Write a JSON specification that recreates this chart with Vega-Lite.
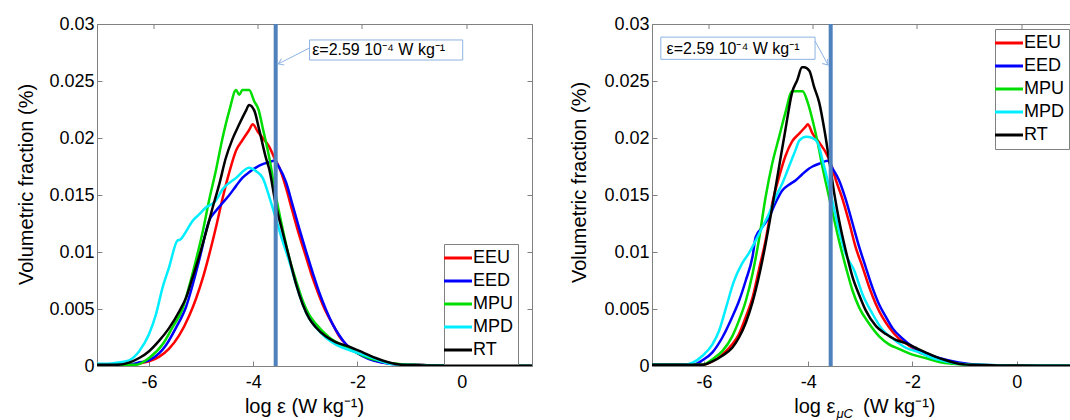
{
  "$schema": "https://vega.github.io/schema/vega-lite/v6.json",
  "background": "white",
  "padding": {"left": 15, "top": 14, "right": 0, "bottom": 0},
  "spacing": 35,
  "config": {
    "view": {"stroke": "#808080", "strokeWidth": 1},
    "axis": {
      "grid": false,
      "domainColor": "#808080",
      "tickColor": "#808080",
      "labelColor": "#000000",
      "labelFont": "Liberation Sans",
      "labelFontSize": 18,
      "titleFont": "Liberation Sans",
      "titleFontSize": 20,
      "titleFontWeight": "normal",
      "titleColor": "#000000"
    },
    "legend": {
      "orient": "none",
      "title": null,
      "symbolType": "M-2,0H2",
      "symbolSize": 196,
      "symbolStrokeWidth": 3,
      "labelFont": "Liberation Sans",
      "labelFontSize": 18,
      "labelColor": "#000000",
      "strokeColor": "#808080",
      "fillColor": "white",
      "padding": 5,
      "rowPadding": 5,
      "labelOffset": 6
    }
  },
  "resolve": {"scale": {"color": "independent"}},
  "datasets": {
    "one": [{}],
    "L": [
      {"s":"EEU","x":-7,"y":0.0001},{"s":"EEU","x":-6.6,"y":0.0001},{"s":"EEU","x":-6.4,"y":0.0001},{"s":"EEU","x":-6.2,"y":0.0002},{"s":"EEU","x":-6.0,"y":0.0004},{"s":"EEU","x":-5.81,"y":0.0008},{"s":"EEU","x":-5.62,"y":0.0015},{"s":"EEU","x":-5.42,"y":0.0027},{"s":"EEU","x":-5.23,"y":0.0044},{"s":"EEU","x":-5.1,"y":0.0059},{"s":"EEU","x":-4.97,"y":0.0077},{"s":"EEU","x":-4.85,"y":0.0097},{"s":"EEU","x":-4.72,"y":0.0121},{"s":"EEU","x":-4.59,"y":0.0147},{"s":"EEU","x":-4.46,"y":0.017},{"s":"EEU","x":-4.33,"y":0.0189},{"s":"EEU","x":-4.21,"y":0.0198},{"s":"EEU","x":-4.08,"y":0.0207},{"s":"EEU","x":-4.01,"y":0.0212},{"s":"EEU","x":-3.92,"y":0.0206},{"s":"EEU","x":-3.82,"y":0.02},{"s":"EEU","x":-3.69,"y":0.0192},{"s":"EEU","x":-3.6,"y":0.0183},{"s":"EEU","x":-3.5,"y":0.0174},{"s":"EEU","x":-3.37,"y":0.0156},{"s":"EEU","x":-3.25,"y":0.0136},{"s":"EEU","x":-3.12,"y":0.0115},{"s":"EEU","x":-2.99,"y":0.0096},{"s":"EEU","x":-2.86,"y":0.0077},{"s":"EEU","x":-2.73,"y":0.0061},{"s":"EEU","x":-2.61,"y":0.0048},{"s":"EEU","x":-2.48,"y":0.0037},{"s":"EEU","x":-2.35,"y":0.0026},{"s":"EEU","x":-2.22,"y":0.0019},{"s":"EEU","x":-2.03,"y":0.0012},{"s":"EEU","x":-1.78,"y":0.0007},{"s":"EEU","x":-1.52,"y":0.0003},{"s":"EEU","x":-1.27,"y":0.00015},{"s":"EEU","x":-0.88,"y":0.0001},{"s":"EEU","x":-0.5,"y":0.00005},{"s":"EEU","x":0,"y":0.00003},{"s":"EEU","x":0.5,"y":0.00002},{"s":"EEU","x":1.35,"y":0.00001},

      {"s":"EED","x":-7,"y":0.0001},{"s":"EED","x":-6.6,"y":0.0001},{"s":"EED","x":-6.385,"y":0.0001},{"s":"EED","x":-6.2,"y":0.0003},{"s":"EED","x":-6.0,"y":0.0005},{"s":"EED","x":-5.81,"y":0.0011},{"s":"EED","x":-5.68,"y":0.0018},{"s":"EED","x":-5.49,"y":0.0033},{"s":"EED","x":-5.29,"y":0.0052},{"s":"EED","x":-5.1,"y":0.0082},{"s":"EED","x":-5.0,"y":0.01},{"s":"EED","x":-4.92,"y":0.0116},{"s":"EED","x":-4.85,"y":0.0127},{"s":"EED","x":-4.72,"y":0.0136},{"s":"EED","x":-4.59,"y":0.0143},{"s":"EED","x":-4.46,"y":0.015},{"s":"EED","x":-4.33,"y":0.0158},{"s":"EED","x":-4.21,"y":0.0165},{"s":"EED","x":-4.08,"y":0.017},{"s":"EED","x":-3.95,"y":0.0174},{"s":"EED","x":-3.82,"y":0.0177},{"s":"EED","x":-3.69,"y":0.0179},{"s":"EED","x":-3.6,"y":0.018},{"s":"EED","x":-3.5,"y":0.0174},{"s":"EED","x":-3.37,"y":0.0161},{"s":"EED","x":-3.25,"y":0.0142},{"s":"EED","x":-3.12,"y":0.0121},{"s":"EED","x":-2.99,"y":0.0101},{"s":"EED","x":-2.86,"y":0.0082},{"s":"EED","x":-2.73,"y":0.0064},{"s":"EED","x":-2.61,"y":0.005},{"s":"EED","x":-2.48,"y":0.0037},{"s":"EED","x":-2.35,"y":0.0027},{"s":"EED","x":-2.22,"y":0.0019},{"s":"EED","x":-2.03,"y":0.0012},{"s":"EED","x":-1.78,"y":0.0006},{"s":"EED","x":-1.52,"y":0.0003},{"s":"EED","x":-1.27,"y":0.00015},{"s":"EED","x":-0.88,"y":0.0001},{"s":"EED","x":-0.5,"y":0.00005},{"s":"EED","x":0,"y":0.00003},{"s":"EED","x":0.5,"y":0.00002},{"s":"EED","x":1.35,"y":0.00001},

      {"s":"MPU","x":-7,"y":0.0001},{"s":"MPU","x":-6.6,"y":0.0001},{"s":"MPU","x":-6.26,"y":0.0001},{"s":"MPU","x":-6.0,"y":0.0007},{"s":"MPU","x":-5.74,"y":0.0019},{"s":"MPU","x":-5.55,"y":0.0034},{"s":"MPU","x":-5.36,"y":0.005},{"s":"MPU","x":-5.23,"y":0.007},{"s":"MPU","x":-5.1,"y":0.0093},{"s":"MPU","x":-4.97,"y":0.0118},{"s":"MPU","x":-4.85,"y":0.0145},{"s":"MPU","x":-4.72,"y":0.0171},{"s":"MPU","x":-4.59,"y":0.02},{"s":"MPU","x":-4.46,"y":0.0224},{"s":"MPU","x":-4.33,"y":0.0242},{"s":"MPU","x":-4.27,"y":0.0238},{"s":"MPU","x":-4.21,"y":0.0242},{"s":"MPU","x":-4.08,"y":0.0242},{"s":"MPU","x":-3.98,"y":0.0232},{"s":"MPU","x":-3.9,"y":0.0225},{"s":"MPU","x":-3.82,"y":0.0209},{"s":"MPU","x":-3.69,"y":0.0182},{"s":"MPU","x":-3.57,"y":0.015},{"s":"MPU","x":-3.44,"y":0.0121},{"s":"MPU","x":-3.31,"y":0.0095},{"s":"MPU","x":-3.18,"y":0.0075},{"s":"MPU","x":-3.05,"y":0.0057},{"s":"MPU","x":-2.93,"y":0.0045},{"s":"MPU","x":-2.8,"y":0.0037},{"s":"MPU","x":-2.54,"y":0.0025},{"s":"MPU","x":-2.29,"y":0.0018},{"s":"MPU","x":-2.03,"y":0.0012},{"s":"MPU","x":-1.78,"y":0.0007},{"s":"MPU","x":-1.52,"y":0.0004},{"s":"MPU","x":-1.27,"y":0.0002},{"s":"MPU","x":-0.9,"y":0.0001},{"s":"MPU","x":-0.5,"y":0.00005},{"s":"MPU","x":0,"y":0.00003},{"s":"MPU","x":1.35,"y":0.00001},

      {"s":"MPD","x":-7,"y":0.0002},{"s":"MPD","x":-6.8,"y":0.0002},{"s":"MPD","x":-6.6,"y":0.0003},{"s":"MPD","x":-6.385,"y":0.0005},{"s":"MPD","x":-6.19,"y":0.0013},{"s":"MPD","x":-6.0,"y":0.0028},{"s":"MPD","x":-5.87,"y":0.0045},{"s":"MPD","x":-5.74,"y":0.0069},{"s":"MPD","x":-5.62,"y":0.0086},{"s":"MPD","x":-5.455,"y":0.011},{"s":"MPD","x":-5.4,"y":0.0111},{"s":"MPD","x":-5.29,"y":0.0118},{"s":"MPD","x":-5.17,"y":0.0127},{"s":"MPD","x":-5.04,"y":0.0133},{"s":"MPD","x":-4.91,"y":0.0139},{"s":"MPD","x":-4.72,"y":0.0145},{"s":"MPD","x":-4.59,"y":0.0155},{"s":"MPD","x":-4.33,"y":0.0165},{"s":"MPD","x":-4.08,"y":0.0174},{"s":"MPD","x":-3.95,"y":0.0171},{"s":"MPD","x":-3.82,"y":0.0165},{"s":"MPD","x":-3.69,"y":0.0148},{"s":"MPD","x":-3.57,"y":0.013},{"s":"MPD","x":-3.44,"y":0.011},{"s":"MPD","x":-3.31,"y":0.0092},{"s":"MPD","x":-3.18,"y":0.0072},{"s":"MPD","x":-3.05,"y":0.0054},{"s":"MPD","x":-2.93,"y":0.0042},{"s":"MPD","x":-2.8,"y":0.0034},{"s":"MPD","x":-2.61,"y":0.0025},{"s":"MPD","x":-2.42,"y":0.0019},{"s":"MPD","x":-2.16,"y":0.0014},{"s":"MPD","x":-1.9,"y":0.001},{"s":"MPD","x":-1.65,"y":0.0006},{"s":"MPD","x":-1.39,"y":0.0002},{"s":"MPD","x":-1.14,"y":0.0001},{"s":"MPD","x":-0.63,"y":0.00005},{"s":"MPD","x":0,"y":0.00003},{"s":"MPD","x":1.35,"y":0.00001},

      {"s":"RT","x":-7,"y":0.0001},{"s":"RT","x":-6.8,"y":0.0001},{"s":"RT","x":-6.64,"y":0.0001},{"s":"RT","x":-6.385,"y":0.0003},{"s":"RT","x":-6.19,"y":0.0007},{"s":"RT","x":-6.0,"y":0.0013},{"s":"RT","x":-5.81,"y":0.0022},{"s":"RT","x":-5.62,"y":0.0033},{"s":"RT","x":-5.42,"y":0.0048},{"s":"RT","x":-5.29,"y":0.006},{"s":"RT","x":-5.17,"y":0.0077},{"s":"RT","x":-5.04,"y":0.0096},{"s":"RT","x":-4.91,"y":0.0117},{"s":"RT","x":-4.78,"y":0.0139},{"s":"RT","x":-4.65,"y":0.016},{"s":"RT","x":-4.53,"y":0.0182},{"s":"RT","x":-4.4,"y":0.0199},{"s":"RT","x":-4.27,"y":0.0212},{"s":"RT","x":-4.14,"y":0.0224},{"s":"RT","x":-4.08,"y":0.0229},{"s":"RT","x":-3.98,"y":0.0224},{"s":"RT","x":-3.89,"y":0.0208},{"s":"RT","x":-3.76,"y":0.0183},{"s":"RT","x":-3.69,"y":0.0172},{"s":"RT","x":-3.57,"y":0.0142},{"s":"RT","x":-3.44,"y":0.0118},{"s":"RT","x":-3.31,"y":0.0095},{"s":"RT","x":-3.18,"y":0.0072},{"s":"RT","x":-3.05,"y":0.0054},{"s":"RT","x":-2.93,"y":0.0042},{"s":"RT","x":-2.8,"y":0.0034},{"s":"RT","x":-2.61,"y":0.0026},{"s":"RT","x":-2.42,"y":0.0021},{"s":"RT","x":-2.16,"y":0.0017},{"s":"RT","x":-1.9,"y":0.0012},{"s":"RT","x":-1.65,"y":0.0007},{"s":"RT","x":-1.39,"y":0.0003},{"s":"RT","x":-1.14,"y":0.0001},{"s":"RT","x":-0.63,"y":0.00005},{"s":"RT","x":0,"y":0.00003},{"s":"RT","x":1.35,"y":0.00002}
    ],
    "R": [
      {"s":"EEU","x":-7,"y":0.0001},{"s":"EEU","x":-6.5,"y":0.0001},{"s":"EEU","x":-6.03,"y":0.0001},{"s":"EEU","x":-5.84,"y":0.0004},{"s":"EEU","x":-5.65,"y":0.001},{"s":"EEU","x":-5.46,"y":0.0019},{"s":"EEU","x":-5.33,"y":0.0028},{"s":"EEU","x":-5.2,"y":0.0043},{"s":"EEU","x":-5.07,"y":0.006},{"s":"EEU","x":-4.95,"y":0.0084},{"s":"EEU","x":-4.82,"y":0.011},{"s":"EEU","x":-4.69,"y":0.0143},{"s":"EEU","x":-4.56,"y":0.0166},{"s":"EEU","x":-4.44,"y":0.0184},{"s":"EEU","x":-4.31,"y":0.0197},{"s":"EEU","x":-4.17,"y":0.0204},{"s":"EEU","x":-4.05,"y":0.021},{"s":"EEU","x":-4.01,"y":0.0212},{"s":"EEU","x":-3.92,"y":0.0204},{"s":"EEU","x":-3.79,"y":0.0196},{"s":"EEU","x":-3.66,"y":0.0187},{"s":"EEU","x":-3.57,"y":0.0178},{"s":"EEU","x":-3.47,"y":0.0163},{"s":"EEU","x":-3.34,"y":0.0146},{"s":"EEU","x":-3.21,"y":0.0125},{"s":"EEU","x":-3.09,"y":0.0104},{"s":"EEU","x":-2.96,"y":0.0087},{"s":"EEU","x":-2.83,"y":0.0069},{"s":"EEU","x":-2.7,"y":0.0054},{"s":"EEU","x":-2.58,"y":0.0043},{"s":"EEU","x":-2.45,"y":0.0034},{"s":"EEU","x":-2.26,"y":0.0024},{"s":"EEU","x":-2.07,"y":0.0018},{"s":"EEU","x":-1.87,"y":0.0012},{"s":"EEU","x":-1.68,"y":0.0009},{"s":"EEU","x":-1.43,"y":0.0005},{"s":"EEU","x":-1.11,"y":0.0002},{"s":"EEU","x":-0.8,"y":0.0001},{"s":"EEU","x":-0.3,"y":0.00005},{"s":"EEU","x":0.5,"y":0.00003},{"s":"EEU","x":1.35,"y":0.00002},

      {"s":"EED","x":-7,"y":0.0001},{"s":"EED","x":-6.5,"y":0.0001},{"s":"EED","x":-6.22,"y":0.0001},{"s":"EED","x":-6.03,"y":0.0005},{"s":"EED","x":-5.84,"y":0.0012},{"s":"EED","x":-5.65,"y":0.0025},{"s":"EED","x":-5.46,"y":0.0043},{"s":"EED","x":-5.33,"y":0.0057},{"s":"EED","x":-5.2,"y":0.0075},{"s":"EED","x":-5.07,"y":0.0096},{"s":"EED","x":-5.01,"y":0.0113},{"s":"EED","x":-4.88,"y":0.0122},{"s":"EED","x":-4.75,"y":0.0131},{"s":"EED","x":-4.63,"y":0.0143},{"s":"EED","x":-4.5,"y":0.0154},{"s":"EED","x":-4.37,"y":0.0159},{"s":"EED","x":-4.24,"y":0.0163},{"s":"EED","x":-4.12,"y":0.0168},{"s":"EED","x":-3.99,"y":0.0173},{"s":"EED","x":-3.92,"y":0.0175},{"s":"EED","x":-3.76,"y":0.0178},{"s":"EED","x":-3.63,"y":0.018},{"s":"EED","x":-3.53,"y":0.0173},{"s":"EED","x":-3.41,"y":0.0163},{"s":"EED","x":-3.28,"y":0.0146},{"s":"EED","x":-3.15,"y":0.0125},{"s":"EED","x":-3.02,"y":0.0104},{"s":"EED","x":-2.9,"y":0.0087},{"s":"EED","x":-2.77,"y":0.0069},{"s":"EED","x":-2.64,"y":0.0054},{"s":"EED","x":-2.51,"y":0.0043},{"s":"EED","x":-2.38,"y":0.0033},{"s":"EED","x":-2.19,"y":0.0024},{"s":"EED","x":-2.0,"y":0.0017},{"s":"EED","x":-1.75,"y":0.0011},{"s":"EED","x":-1.49,"y":0.0007},{"s":"EED","x":-1.11,"y":0.0003},{"s":"EED","x":-0.7,"y":0.0001},{"s":"EED","x":-0.3,"y":0.00005},{"s":"EED","x":0.5,"y":0.00003},{"s":"EED","x":1.35,"y":0.00002},

      {"s":"MPU","x":-7,"y":0.0001},{"s":"MPU","x":-6.5,"y":0.0001},{"s":"MPU","x":-6.03,"y":0.0001},{"s":"MPU","x":-5.84,"y":0.0006},{"s":"MPU","x":-5.65,"y":0.0013},{"s":"MPU","x":-5.46,"y":0.0026},{"s":"MPU","x":-5.33,"y":0.004},{"s":"MPU","x":-5.2,"y":0.0057},{"s":"MPU","x":-5.07,"y":0.0081},{"s":"MPU","x":-4.95,"y":0.011},{"s":"MPU","x":-4.82,"y":0.0148},{"s":"MPU","x":-4.69,"y":0.0178},{"s":"MPU","x":-4.56,"y":0.0201},{"s":"MPU","x":-4.44,"y":0.0222},{"s":"MPU","x":-4.31,"y":0.0241},{"s":"MPU","x":-4.24,"y":0.0241},{"s":"MPU","x":-4.11,"y":0.0241},{"s":"MPU","x":-4.01,"y":0.0231},{"s":"MPU","x":-3.92,"y":0.0216},{"s":"MPU","x":-3.82,"y":0.0196},{"s":"MPU","x":-3.73,"y":0.0175},{"s":"MPU","x":-3.63,"y":0.0154},{"s":"MPU","x":-3.53,"y":0.0134},{"s":"MPU","x":-3.41,"y":0.011},{"s":"MPU","x":-3.28,"y":0.0087},{"s":"MPU","x":-3.15,"y":0.0066},{"s":"MPU","x":-3.02,"y":0.0051},{"s":"MPU","x":-2.83,"y":0.0037},{"s":"MPU","x":-2.64,"y":0.0026},{"s":"MPU","x":-2.45,"y":0.0019},{"s":"MPU","x":-2.26,"y":0.0015},{"s":"MPU","x":-2.0,"y":0.001},{"s":"MPU","x":-1.75,"y":0.0007},{"s":"MPU","x":-1.43,"y":0.0003},{"s":"MPU","x":-1.11,"y":0.00015},{"s":"MPU","x":-0.7,"y":0.00008},{"s":"MPU","x":0,"y":0.00003},{"s":"MPU","x":1.35,"y":0.00002},

      {"s":"MPD","x":-7,"y":0.0001},{"s":"MPD","x":-6.6,"y":0.0001},{"s":"MPD","x":-6.42,"y":0.0001},{"s":"MPD","x":-6.22,"y":0.0003},{"s":"MPD","x":-6.03,"y":0.0009},{"s":"MPD","x":-5.84,"y":0.0019},{"s":"MPD","x":-5.72,"y":0.003},{"s":"MPD","x":-5.58,"y":0.0051},{"s":"MPD","x":-5.43,"y":0.0074},{"s":"MPD","x":-5.27,"y":0.009},{"s":"MPD","x":-5.14,"y":0.0099},{"s":"MPD","x":-5.01,"y":0.011},{"s":"MPD","x":-4.88,"y":0.0122},{"s":"MPD","x":-4.75,"y":0.0134},{"s":"MPD","x":-4.63,"y":0.0148},{"s":"MPD","x":-4.5,"y":0.016},{"s":"MPD","x":-4.37,"y":0.0175},{"s":"MPD","x":-4.24,"y":0.019},{"s":"MPD","x":-4.17,"y":0.0198},{"s":"MPD","x":-4.04,"y":0.0201},{"s":"MPD","x":-3.92,"y":0.02},{"s":"MPD","x":-3.82,"y":0.0196},{"s":"MPD","x":-3.73,"y":0.0181},{"s":"MPD","x":-3.63,"y":0.0163},{"s":"MPD","x":-3.53,"y":0.0143},{"s":"MPD","x":-3.41,"y":0.0119},{"s":"MPD","x":-3.28,"y":0.0098},{"s":"MPD","x":-3.12,"y":0.0084},{"s":"MPD","x":-2.96,"y":0.0063},{"s":"MPD","x":-2.77,"y":0.0046},{"s":"MPD","x":-2.58,"y":0.0032},{"s":"MPD","x":-2.38,"y":0.0024},{"s":"MPD","x":-2.13,"y":0.0016},{"s":"MPD","x":-1.87,"y":0.0012},{"s":"MPD","x":-1.62,"y":0.0007},{"s":"MPD","x":-1.36,"y":0.0004},{"s":"MPD","x":-1.11,"y":0.0002},{"s":"MPD","x":-0.7,"y":0.0001},{"s":"MPD","x":0,"y":0.00003},{"s":"MPD","x":1.35,"y":0.00002},

      {"s":"RT","x":-7,"y":0.0001},{"s":"RT","x":-6.5,"y":0.0001},{"s":"RT","x":-6.03,"y":0.0001},{"s":"RT","x":-5.84,"y":0.0004},{"s":"RT","x":-5.65,"y":0.0009},{"s":"RT","x":-5.46,"y":0.0016},{"s":"RT","x":-5.33,"y":0.0025},{"s":"RT","x":-5.2,"y":0.0038},{"s":"RT","x":-5.07,"y":0.0056},{"s":"RT","x":-4.95,"y":0.0078},{"s":"RT","x":-4.82,"y":0.0107},{"s":"RT","x":-4.69,"y":0.014},{"s":"RT","x":-4.56,"y":0.0175},{"s":"RT","x":-4.44,"y":0.0207},{"s":"RT","x":-4.31,"y":0.024},{"s":"RT","x":-4.21,"y":0.0251},{"s":"RT","x":-4.12,"y":0.0262},{"s":"RT","x":-4.08,"y":0.0262},{"s":"RT","x":-3.98,"y":0.0259},{"s":"RT","x":-3.89,"y":0.0245},{"s":"RT","x":-3.79,"y":0.0231},{"s":"RT","x":-3.69,"y":0.0207},{"s":"RT","x":-3.6,"y":0.0181},{"s":"RT","x":-3.5,"y":0.0151},{"s":"RT","x":-3.41,"y":0.0128},{"s":"RT","x":-3.28,"y":0.0101},{"s":"RT","x":-3.15,"y":0.0078},{"s":"RT","x":-3.02,"y":0.0062},{"s":"RT","x":-2.9,"y":0.0049},{"s":"RT","x":-2.7,"y":0.0035},{"s":"RT","x":-2.51,"y":0.0028},{"s":"RT","x":-2.32,"y":0.0023},{"s":"RT","x":-2.13,"y":0.002},{"s":"RT","x":-1.94,"y":0.0016},{"s":"RT","x":-1.75,"y":0.0012},{"s":"RT","x":-1.55,"y":0.0008},{"s":"RT","x":-1.36,"y":0.0005},{"s":"RT","x":-1.11,"y":0.0002},{"s":"RT","x":-0.85,"y":0.0001},{"s":"RT","x":-0.3,"y":0.00005},{"s":"RT","x":0.5,"y":0.00003},{"s":"RT","x":1.35,"y":0.00002}
    ]
  },
  "hconcat": [
    {
      "width": 435,
      "height": 342,
      "resolve": {"axis": {"x": "independent", "y": "independent"}},
      "layer": [
        {
          "data": {"name": "L"},
          "mark": {"type": "line", "strokeWidth": 2.5, "clip": true, "interpolate": "monotone"},
          "encoding": {
            "x": {"field": "x", "type": "quantitative", "scale": {"domain": [-7, 1.35], "nice": false, "zero": false},
                  "axis": {"orient": "bottom", "values": [-6, -4, -2, 0], "labelExpr": "datum.value < 0 ? '-' + abs(datum.value) : datum.label", "tickSize": -5, "labelPadding": 12, "title": "log ε  (W kg⁻¹)", "titlePadding": 5, "titleX": 207}},
            "y": {"field": "y", "type": "quantitative", "scale": {"domain": [0, 0.03], "nice": false},
                  "axis": {"orient": "left", "values": [0, 0.005, 0.01, 0.015, 0.02, 0.025, 0.03], "format": "~g", "tickSize": -5, "labelPadding": 8, "title": "Volumetric fraction (%)", "titleX": -71, "titleY": 160, "titleAngle": 270, "titleAlign": "center", "titleBaseline": "middle"}},
            "color": {"field": "s", "type": "nominal",
                      "scale": {"domain": ["EEU", "EED", "MPU", "MPD", "RT"], "range": ["#ff0000", "#0000ff", "#00dd00", "#00eeff", "#000000"]},
                      "legend": {"legendX": 347, "legendY": 220}}
          }
        },
        {
          "data": {"name": "one"},
          "mark": {"type": "rule", "color": "#4f81bd", "strokeWidth": 4},
          "encoding": {"x": {"datum": -3.57, "type": "quantitative", "axis": {"orient": "top", "values": [-6, -4, -2, 0], "labels": false, "domain": false, "ticks": true, "tickSize": 5, "tickOffset": 0, "translate": 5, "title": null}}}
        },
        {
          "data": {"name": "one"},
          "mark": {"type": "rect", "fill": "white", "stroke": "#8db3e2", "strokeWidth": 1},
          "encoding": {
            "x": {"datum": -2.92, "type": "quantitative", "axis": null},
            "x2": {"datum": 0.02},
            "y": {"datum": 0.0286, "type": "quantitative", "axis": {"orient": "right", "values": [0, 0.005, 0.01, 0.015, 0.02, 0.025, 0.03], "labels": false, "domain": false, "ticks": true, "tickSize": -5, "title": null}},
            "y2": {"datum": 0.02684}
          }
        },
        {
          "data": {"name": "one"},
          "mark": {"type": "text", "align": "left", "baseline": "middle", "font": "Liberation Sans", "fontSize": 16, "color": "#000000"},
          "encoding": {"x": {"datum": -2.87, "type": "quantitative", "axis": null}, "y": {"datum": 0.0277, "type": "quantitative", "axis": null}, "text": {"value": "ε=2.59 10⁻⁴ W kg⁻¹"}}
        },
        {
          "data": {"name": "one"},
          "mark": {"type": "rule", "color": "#8db3e2", "strokeWidth": 1},
          "encoding": {"x": {"datum": -2.92, "type": "quantitative", "axis": null}, "y": {"datum": 0.0279, "type": "quantitative", "axis": null}, "x2": {"datum": -3.52}, "y2": {"datum": 0.0265}}
        },
        {
          "data": {"name": "one"},
          "mark": {"type": "point", "shape": "M-1,-0.7L0,0L-1,0.7", "filled": false, "stroke": "#8db3e2", "strokeWidth": 1, "size": 100, "angle": 156, "opacity": 1},
          "encoding": {"x": {"datum": -3.52, "type": "quantitative", "axis": null}, "y": {"datum": 0.0265, "type": "quantitative", "axis": null}}
        }
      ]
    },
    {
      "width": 435,
      "height": 342,
      "resolve": {"axis": {"x": "independent", "y": "independent"}},
      "layer": [
        {
          "data": {"name": "R"},
          "mark": {"type": "line", "strokeWidth": 2.5, "clip": true, "interpolate": "monotone"},
          "encoding": {
            "x": {"field": "x", "type": "quantitative", "scale": {"domain": [-7, 1.35], "nice": false, "zero": false},
                  "axis": {"orient": "bottom", "values": [-6, -4, -2, 0], "labelExpr": "datum.value < 0 ? '-' + abs(datum.value) : datum.label", "tickSize": -5, "labelPadding": 12, "title": null}},
            "y": {"field": "y", "type": "quantitative", "scale": {"domain": [0, 0.03], "nice": false},
                  "axis": {"orient": "left", "values": [0, 0.005, 0.01, 0.015, 0.02, 0.025, 0.03], "format": "~g", "tickSize": -5, "labelPadding": 8, "title": "Volumetric fraction (%)", "titleX": -73, "titleY": 158, "titleAngle": 270, "titleAlign": "center", "titleBaseline": "middle"}},
            "color": {"field": "s", "type": "nominal",
                      "scale": {"domain": ["EEU", "EED", "MPU", "MPD", "RT"], "range": ["#ff0000", "#0000ff", "#00dd00", "#00eeff", "#000000"]},
                      "legend": {"legendX": 343, "legendY": 5}}
          }
        },
        {
          "data": {"name": "one"},
          "mark": {"type": "rule", "color": "#4f81bd", "strokeWidth": 4},
          "encoding": {"x": {"datum": -3.57, "type": "quantitative", "axis": {"orient": "top", "values": [-6, -4, -2, 0], "labels": false, "domain": false, "ticks": true, "tickSize": 5, "translate": 5, "title": null}}}
        },
        {
          "data": {"name": "one"},
          "mark": {"type": "rect", "fill": "white", "stroke": "#8db3e2", "strokeWidth": 1},
          "encoding": {
            "x": {"datum": -6.83, "type": "quantitative", "axis": null},
            "x2": {"datum": -3.87},
            "y": {"datum": 0.02885, "type": "quantitative", "axis": {"orient": "right", "values": [0, 0.005, 0.01, 0.015, 0.02, 0.025, 0.03], "labels": false, "domain": false, "ticks": true, "tickSize": -5, "title": null}},
            "y2": {"datum": 0.0269}
          }
        },
        {
          "data": {"name": "one"},
          "mark": {"type": "text", "align": "left", "baseline": "middle", "font": "Liberation Sans", "fontSize": 16, "color": "#000000"},
          "encoding": {"x": {"datum": -6.72, "type": "quantitative", "axis": null}, "y": {"datum": 0.02785, "type": "quantitative", "axis": null}, "text": {"value": "ε=2.59 10⁻⁴ W kg⁻¹"}}
        },
        {
          "data": {"name": "one"},
          "mark": {"type": "rule", "color": "#8db3e2", "strokeWidth": 1},
          "encoding": {"x": {"datum": -3.87, "type": "quantitative", "axis": null}, "y": {"datum": 0.0285, "type": "quantitative", "axis": null}, "x2": {"datum": -3.62}, "y2": {"datum": 0.0264}}
        },
        {
          "data": {"name": "one"},
          "mark": {"type": "point", "shape": "M-1,-0.7L0,0L-1,0.7", "filled": false, "stroke": "#8db3e2", "strokeWidth": 1, "size": 100, "angle": 50, "opacity": 1},
          "encoding": {"x": {"datum": -3.62, "type": "quantitative", "axis": null}, "y": {"datum": 0.0264, "type": "quantitative", "axis": null}}
        },
        {
          "data": {"name": "one"},
          "mark": {"type": "text", "align": "right", "baseline": "middle", "font": "Liberation Sans", "fontSize": 20, "color": "#000000"},
          "encoding": {"x": {"datum": -3.48, "type": "quantitative", "axis": null}, "y": {"datum": -0.0036, "type": "quantitative", "axis": null}, "text": {"value": "log ε"}}
        },
        {
          "data": {"name": "one"},
          "mark": {"type": "text", "align": "left", "baseline": "middle", "font": "Liberation Sans", "fontSize": 13, "fontStyle": "italic", "color": "#000000"},
          "encoding": {"x": {"datum": -3.46, "type": "quantitative", "axis": null}, "y": {"datum": -0.0042, "type": "quantitative", "axis": null}, "text": {"value": "μC"}}
        },
        {
          "data": {"name": "one"},
          "mark": {"type": "text", "align": "left", "baseline": "middle", "font": "Liberation Sans", "fontSize": 20, "color": "#000000"},
          "encoding": {"x": {"datum": -2.95, "type": "quantitative", "axis": null}, "y": {"datum": -0.0036, "type": "quantitative", "axis": null}, "text": {"value": "(W kg⁻¹)"}}
        }
      ]
    }
  ]
}
